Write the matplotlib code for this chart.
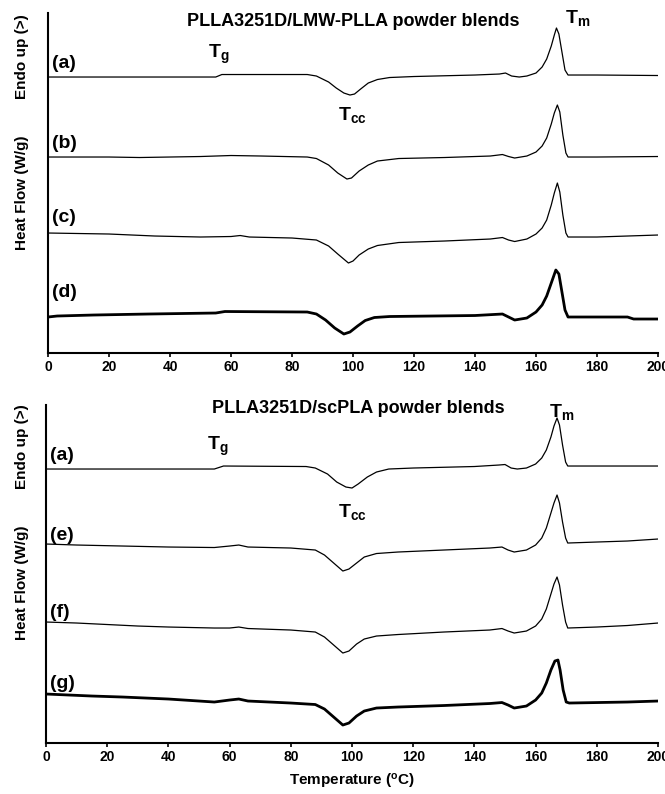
import matplotlib
matplotlib.use("Agg")
import matplotlib.pyplot as plt

plt.rcParams['font.family'] = ['Liberation Sans', 'DejaVu Sans']
plt.rcParams['font.weight'] = 'bold'
plt.rcParams['mathtext.fontset'] = 'custom'
plt.rcParams['mathtext.rm'] = 'Liberation Sans:bold'
plt.rcParams['mathtext.it'] = 'Liberation Sans:bold'
plt.rcParams['mathtext.bf'] = 'Liberation Sans:bold'

# ---- top panel: PLLA3251D/LMW-PLLA (heat flow in arbitrary, offset units) ----
t_a1 = [0, 55, 57, 85, 88, 92, 94.5, 97, 99, 100.5, 102.5, 105, 108, 112, 120, 140, 148, 150, 152,
        154.5, 157, 160, 162, 163.5, 165, 166, 166.7, 167.5, 168.5, 169.5, 170.5, 180, 200]
hf_a1 = [276, 276, 278.5, 278.5, 277, 271, 265, 260, 258, 259, 264, 270, 273.5, 275.5, 276.5, 278, 279, 280, 277,
         276, 277, 280, 286, 294, 307, 318, 325, 319, 301, 283, 278, 278, 277.5]

t_b = [0, 20, 30, 50, 60, 70, 85, 88, 92, 95, 98, 99.5, 102, 105, 108, 115, 130, 145, 149, 151, 153,
       157, 160, 162, 163.5, 165, 166, 167, 167.8, 168.8, 169.8, 170.5, 180, 200]
hf_b = [196, 196, 195.5, 196.5, 197.5, 197, 196, 194.5, 188, 180, 174, 175, 182, 188, 192, 194.5, 195.5, 197, 198.5, 196.5, 195,
        197, 201, 207, 215, 229, 240, 248, 241, 218, 200, 196, 196, 196.5]

t_c = [0, 20, 35, 50, 60, 63, 66, 80, 88, 92, 95, 98.5, 100, 102, 105, 108, 115, 130, 145, 149, 151, 153,
       157, 160, 162, 163.5, 165, 166, 167, 167.8, 168.8, 169.8, 170.5, 180, 190, 200]
hf_c = [120, 119, 117, 116, 116.5, 117.5, 116, 115, 113, 107, 99, 90, 92, 98, 104, 107.5, 110.5, 112, 114, 115.5, 113, 111.5,
        114, 119, 125, 133, 148, 160, 170, 161, 138, 120, 116, 116, 117, 118]

t_d = [0, 3, 15, 33, 55, 58, 85, 88, 91, 94, 97, 99, 101.5, 104, 107, 112, 140, 149, 151, 153,
       157, 160, 162, 163.5, 165, 166.5, 167.5, 168.5, 169.5, 170.5, 190, 192, 200]
hf_d = [36, 37, 38, 39, 40, 41.5, 41, 39, 33, 25, 19, 21, 27, 32.5, 35.5, 36.5, 37.5, 39, 36, 33,
        35, 41, 48, 57, 70, 83, 79, 61, 43, 36, 36, 34, 34]

# ---- bottom panel: PLLA3251D/scPLA ----
t_a2 = [0, 55, 58, 85, 88, 92, 95, 98, 100, 102, 105, 108, 112, 120, 140, 148, 150, 152, 154,
        157, 160, 162, 163.5, 165, 166, 167, 167.8, 168.8, 169.8, 170.5, 200]
hf_a2 = [274, 274, 277, 276.5, 275, 269, 261, 256, 255, 259, 266, 271, 274, 275, 276.5, 278, 278.5, 275, 274,
         275, 279, 285, 293, 306, 317, 325, 318, 298, 281, 277, 277]

t_e = [0, 10, 25, 40, 55, 60, 63, 66, 80, 88, 91, 94, 97, 99, 101.5, 104, 108, 115, 130, 145, 149, 151, 153,
       157, 160, 162, 163.5, 165, 166, 167, 167.8, 168.8, 169.8, 170.5, 180, 190, 200]
hf_e = [199, 198, 197, 196, 195.5, 197, 198, 196, 195, 193, 188, 180, 172, 174, 180, 186, 189.5, 191, 193, 195, 196, 193, 191,
        193, 198, 205, 215, 230, 240, 248, 240, 221, 205, 200, 201, 202, 204]

t_f = [0, 10, 20, 30, 40, 55, 60, 63, 66, 80, 88, 91, 94, 97, 99, 101.5, 104, 108, 115, 130, 145, 149, 151, 153,
       157, 160, 162, 163.5, 165, 166, 167, 167.8, 168.8, 169.8, 170.5, 180, 190, 200]
hf_f = [121, 120, 118.5, 117, 116, 115, 115, 116, 114.5, 113, 111, 106, 98, 90, 92, 99, 104, 107, 108.5, 111, 113, 114.5, 112, 110,
        112, 117, 124, 134, 149, 159, 166, 158, 138, 121, 115, 116, 117.5, 120]

t_g = [0, 15, 25, 40, 55, 60, 63, 66, 80, 88, 91, 94, 97, 99, 101.5, 104, 108, 115, 130, 145, 149, 151, 153,
       157, 160, 162, 163.5, 165, 166.3, 167.3, 168, 169, 170, 171, 190, 200]
hf_g = [49, 47, 46, 44, 41, 43, 44, 42, 40, 38.5, 34, 26, 18, 20, 27, 32, 35, 36, 37.5, 39.5, 40.5, 38, 35,
        37, 43, 50, 60, 73, 82, 83, 73, 53, 41, 40, 41, 42]

xticks = [0, 20, 40, 60, 80, 100, 120, 140, 160, 180, 200]

fig = plt.figure(figsize=(6.65, 7.94), dpi=100)
ax1 = fig.add_axes([0.0722, 0.5554, 0.9173, 0.4282])
ax2 = fig.add_axes([0.0692, 0.0642, 0.9203, 0.4257])

ax1.plot(t_a1, hf_a1, color='black', lw=0.9)
ax1.plot(t_b, hf_b, color='black', lw=0.9)
ax1.plot(t_c, hf_c, color='black', lw=0.9)
ax1.plot(t_d, hf_d, color='black', lw=2.0)

ax2.plot(t_a2, hf_a2, color='black', lw=0.9)
ax2.plot(t_e, hf_e, color='black', lw=0.9)
ax2.plot(t_f, hf_f, color='black', lw=0.9)
ax2.plot(t_g, hf_g, color='black', lw=2.0)

for ax, top in [(ax1, 340), (ax2, 338)]:
    ax.set_xlim(0, 200)
    ax.set_ylim(0, top)
    ax.set_xticks(xticks)
    ax.set_yticks([])
    ax.spines['top'].set_visible(False)
    ax.spines['right'].set_visible(False)
    ax.spines['left'].set_linewidth(1.5)
    ax.spines['bottom'].set_linewidth(1.5)
    ax.tick_params(axis='x', length=3, width=1.2, direction='out', labelsize=10, pad=2)
    for lab in ax.get_xticklabels():
        lab.set_fontweight('bold')

lbl = dict(fontsize=14, fontweight='bold', ha='left', va='center')
# sample labels
ax1.text(1.3, 290, '(a)', **lbl)
ax1.text(1.3, 210, '(b)', **lbl)
ax1.text(1.3, 136, '(c)', **lbl)
ax1.text(1.3, 61, '(d)', **lbl)
ax2.text(1.3, 288, '(a)', **lbl)
ax2.text(1.3, 208, '(e)', **lbl)
ax2.text(1.3, 131, '(f)', **lbl)
ax2.text(1.3, 60, '(g)', **lbl)

tl = dict(fontsize=14, fontweight='bold', ha='left', va='center')
ax1.text(52.5, 299, r'T$_{\mathrm{g}}$', **tl)
ax1.text(95.0, 238, r'T$_{\mathrm{cc}}$', **tl)
ax1.text(169.5, 335, r'T$_{\mathrm{m}}$', **tl)
ax2.text(52.5, 297, r'T$_{\mathrm{g}}$', **tl)
ax2.text(95.5, 231, r'T$_{\mathrm{cc}}$', **tl)
ax2.text(164.5, 331, r'T$_{\mathrm{m}}$', **tl)

ax1.text(0.50, 0.975, 'PLLA3251D/LMW-PLLA powder blends', transform=ax1.transAxes,
         fontsize=13, fontweight='bold', ha='center', va='center')
ax2.text(0.51, 0.99, 'PLLA3251D/scPLA powder blends', transform=ax2.transAxes,
         fontsize=13, fontweight='bold', ha='center', va='center')

# y labels
for y_endo, y_heat in [(1 - 57 / 794, 1 - 193 / 794), (1 - 447 / 794, 1 - 583 / 794)]:
    fig.text(22 / 665, y_endo, 'Endo up (>)', rotation=90, fontsize=11, fontweight='bold',
             ha='center', va='center')
    fig.text(22 / 665, y_heat, 'Heat Flow (W/g)', rotation=90, fontsize=11, fontweight='bold',
             ha='center', va='center')

ax2.set_xlabel(r'Temperature ($^{\mathrm{o}}$C)', fontsize=11, fontweight='bold', labelpad=6)

fig.savefig('out.png', dpi=100)
